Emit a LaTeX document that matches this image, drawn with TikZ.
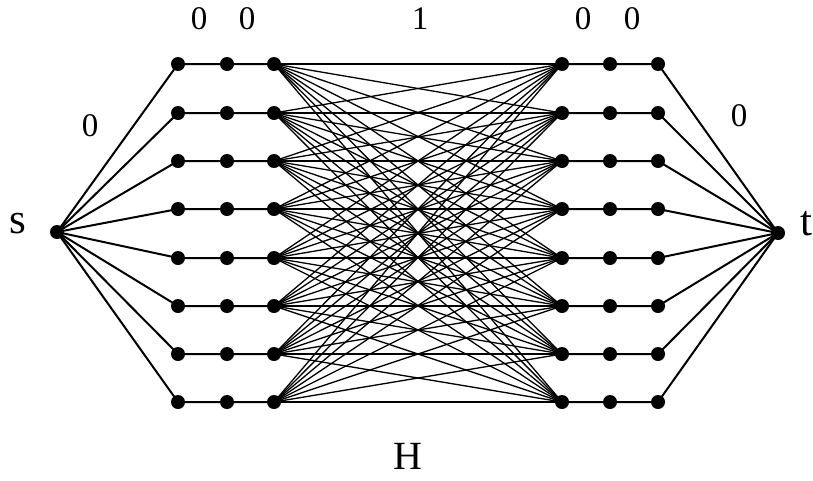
\documentclass[tikz,border=0pt]{standalone}
\usepackage{fontspec}
\setmainfont{Liberation Serif}
\begin{document}
\begin{tikzpicture}[x=1pt,y=-1pt,
  dot/.style={circle,fill=black,inner sep=0pt,minimum size=14pt},
  edge/.style={line width=2pt},
  cross/.style={line width=1.3pt},
  wlabel/.style={inner sep=0pt,font=\fontsize{33}{33}\selectfont},
  vlabel/.style={inner sep=0pt,font=\fontsize{43}{43}\selectfont}]
\useasboundingbox (0,0) rectangle (813,480);
\node[dot] (s) at (57,232) {};
\node[dot] (t) at (778,233) {};
\foreach \i/\y in {1/64,2/113,3/161,4/209,5/258,6/306,7/354,8/402}{
  \node[dot] (L1-\i) at (178,\y) {};
  \node[dot] (L2-\i) at (227,\y) {};
  \node[dot] (L3-\i) at (274,\y) {};
  \node[dot] (R1-\i) at (562,\y) {};
  \node[dot] (R2-\i) at (610,\y) {};
  \node[dot] (R3-\i) at (658,\y) {};
}
\foreach \i in {1,...,8}{
  \draw[edge] (s.center) -- (L1-\i.center) -- (L2-\i.center) -- (L3-\i.center);
  \draw[edge] (R1-\i.center) -- (R2-\i.center) -- (R3-\i.center) -- (t.center);
  \foreach \j in {1,...,8}{
    \draw[cross] (L3-\i.center) -- (R1-\j.center);
  }
}
\node[wlabel] (w1) at (199,19) {0};
\node[wlabel] (w2) at (247,19) {0};
\node[wlabel] (w3) at (420,19) {1};
\node[wlabel] (w4) at (583,19) {0};
\node[wlabel] (w5) at (632,19) {0};
\node[wlabel] (w6) at (90,126) {0};
\node[wlabel] (w7) at (739,116) {0};
\node[vlabel] (ls) at (18,224) {s};
\node[vlabel] (lt) at (806,224) {t};
\node[vlabel,font=\fontsize{40}{40}\selectfont] (lh) at (408,456) {H};
\end{tikzpicture}
\end{document}
